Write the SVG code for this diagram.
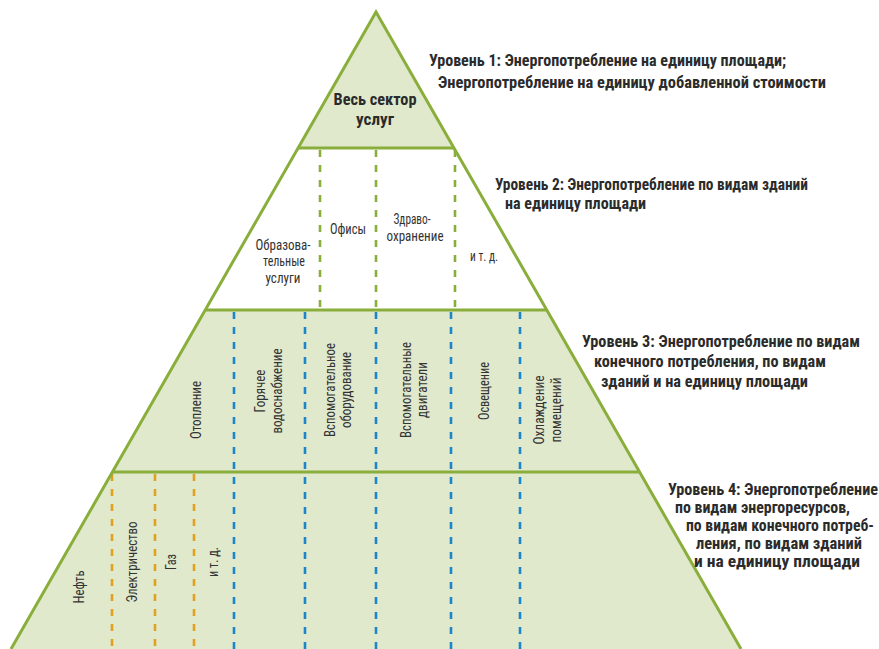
<svg xmlns="http://www.w3.org/2000/svg" width="879" height="649" viewBox="0 0 879 649">
<style>
.fill{fill:#e1e9cd}
.white{fill:#ffffff}
.edge{fill:none;stroke:#8aae3b;stroke-width:3;stroke-linejoin:miter}
.g{stroke:#8aae3b;stroke-width:2.6;stroke-dasharray:7 8;fill:none}
.b{stroke:#1d86c9;stroke-width:2.6;stroke-dasharray:7 8;fill:none}
.o{stroke:#e0a020;stroke-width:2.6;stroke-dasharray:7 8;fill:none}
.lbl{font-family:"Liberation Sans Narrow","Roboto Condensed","DejaVu Sans Condensed","Liberation Sans",sans-serif;font-size:14px;fill:#333333}
.lv{font-family:"Liberation Sans Narrow","Roboto Condensed","DejaVu Sans Condensed","Liberation Sans",sans-serif;font-size:16px;font-weight:bold;fill:#2b2b2b}
.top{font-family:"Liberation Sans Narrow","Roboto Condensed","DejaVu Sans Condensed","Liberation Sans",sans-serif;font-size:17px;font-weight:bold;fill:#2b2b2b;text-anchor:middle}
</style>
<g id="layers">
<polygon class="fill" points="376,12 298,148 454,148"/>
<polygon class="white" points="298,148 454,148 547,310 205,310"/>
<polygon class="fill" points="205,310 547,310 640,472 112,472"/>
<polygon class="fill" points="112,472 640,472 741,649 11,649"/>
</g>
<g id="connectors">
<line class="g" x1="320" y1="150" x2="320" y2="309"/>
<line class="g" x1="376" y1="150" x2="376" y2="309"/>
<line class="g" x1="455" y1="150" x2="455" y2="309"/>
<line class="b" x1="234" y1="312" x2="234" y2="649"/>
<line class="b" x1="305" y1="312" x2="305" y2="649"/>
<line class="b" x1="376" y1="312" x2="376" y2="649"/>
<line class="b" x1="451" y1="312" x2="451" y2="649"/>
<line class="b" x1="520" y1="312" x2="520" y2="649"/>
<line class="o" x1="112" y1="474" x2="112" y2="649"/>
<line class="o" x1="155" y1="474" x2="155" y2="649"/>
<line class="o" x1="194" y1="474" x2="194" y2="649"/>
</g>
<g id="outline">
<polyline class="edge" points="11,649 376,12 741,649"/>
<line class="edge" x1="298" y1="148" x2="454" y2="148"/>
<line class="edge" x1="205" y1="310" x2="547" y2="310"/>
<line class="edge" x1="112" y1="472" x2="640" y2="472"/>
</g>
<g id="level1">
<text class="top" x="375" y="105" textLength="83" lengthAdjust="spacingAndGlyphs">Весь сектор</text>
<text class="top" x="375" y="125" textLength="38" lengthAdjust="spacingAndGlyphs">услуг</text>
<text class="lv" x="429" y="66" textLength="357" lengthAdjust="spacingAndGlyphs">Уровень 1: Энергопотребление на единицу площади;</text>
<text class="lv" x="438" y="88" textLength="388" lengthAdjust="spacingAndGlyphs">Энергопотребление на единицу добавленной стоимости</text>
</g>
<g id="level2">
<text class="lbl" text-anchor="middle" x="283" y="250" textLength="55" lengthAdjust="spacingAndGlyphs">Образова-</text>
<text class="lbl" text-anchor="middle" x="284" y="266" textLength="42" lengthAdjust="spacingAndGlyphs">тельные</text>
<text class="lbl" text-anchor="middle" x="283" y="283" textLength="35" lengthAdjust="spacingAndGlyphs">услуги</text>
<text class="lbl" text-anchor="middle" x="348" y="234" textLength="36" lengthAdjust="spacingAndGlyphs">Офисы</text>
<text class="lbl" text-anchor="middle" x="412" y="224" textLength="37" lengthAdjust="spacingAndGlyphs">Здраво-</text>
<text class="lbl" text-anchor="middle" x="415" y="241" textLength="57" lengthAdjust="spacingAndGlyphs">охранение</text>
<text class="lbl" text-anchor="middle" x="484" y="261" textLength="28" lengthAdjust="spacingAndGlyphs">и т. д.</text>
<text class="lv" x="495" y="190" textLength="313" lengthAdjust="spacingAndGlyphs">Уровень 2: Энергопотребление по видам зданий</text>
<text class="lv" x="505" y="209" textLength="141" lengthAdjust="spacingAndGlyphs">на единицу площади</text>
</g>
<g id="level3">
<text class="lbl" text-anchor="middle" transform="translate(201,410) rotate(-90)" textLength="58" lengthAdjust="spacingAndGlyphs">Отопление</text>
<text class="lbl" text-anchor="middle" transform="translate(265,391) rotate(-90)" textLength="43" lengthAdjust="spacingAndGlyphs">Горячее</text>
<text class="lbl" text-anchor="middle" transform="translate(282,391) rotate(-90)" textLength="85" lengthAdjust="spacingAndGlyphs">водоснабжение</text>
<text class="lbl" text-anchor="middle" transform="translate(335,390) rotate(-90)" textLength="94" lengthAdjust="spacingAndGlyphs">Вспомогательное</text>
<text class="lbl" text-anchor="middle" transform="translate(351,390) rotate(-90)" textLength="76" lengthAdjust="spacingAndGlyphs">оборудование</text>
<text class="lbl" text-anchor="middle" transform="translate(411,390) rotate(-90)" textLength="96" lengthAdjust="spacingAndGlyphs">Вспомогательные</text>
<text class="lbl" text-anchor="middle" transform="translate(427,390) rotate(-90)" textLength="56" lengthAdjust="spacingAndGlyphs">двигатели</text>
<text class="lbl" text-anchor="middle" transform="translate(489,391) rotate(-90)" textLength="58" lengthAdjust="spacingAndGlyphs">Освещение</text>
<text class="lbl" text-anchor="middle" transform="translate(544,410) rotate(-90)" textLength="69" lengthAdjust="spacingAndGlyphs">Охлаждение</text>
<text class="lbl" text-anchor="middle" transform="translate(561,410) rotate(-90)" textLength="65" lengthAdjust="spacingAndGlyphs">помещений</text>
<text class="lv" x="582" y="347" textLength="278" lengthAdjust="spacingAndGlyphs">Уровень 3: Энергопотребление по видам</text>
<text class="lv" x="594" y="367" textLength="232" lengthAdjust="spacingAndGlyphs">конечного потребления, по видам</text>
<text class="lv" x="601" y="387" textLength="207" lengthAdjust="spacingAndGlyphs">зданий и на единицу площади</text>
</g>
<g id="level4">
<text class="lbl" text-anchor="middle" transform="translate(84,587) rotate(-90)" textLength="33" lengthAdjust="spacingAndGlyphs">Нефть</text>
<text class="lbl" text-anchor="middle" transform="translate(137,562) rotate(-90)" textLength="81" lengthAdjust="spacingAndGlyphs">Электричество</text>
<text class="lbl" text-anchor="middle" transform="translate(176,562) rotate(-90)" textLength="16" lengthAdjust="spacingAndGlyphs">Газ</text>
<text class="lbl" text-anchor="middle" transform="translate(218,562) rotate(-90)" textLength="30" lengthAdjust="spacingAndGlyphs">и т. д.</text>
<text class="lv" x="668" y="495" textLength="210" lengthAdjust="spacingAndGlyphs">Уровень 4: Энергопотребление</text>
<text class="lv" x="675" y="513" textLength="175" lengthAdjust="spacingAndGlyphs">по видам энергоресурсов,</text>
<text class="lv" x="686" y="531" textLength="188" lengthAdjust="spacingAndGlyphs">по видам конечного потреб-</text>
<text class="lv" x="696" y="549" textLength="166" lengthAdjust="spacingAndGlyphs">ления, по видам зданий</text>
<text class="lv" x="694" y="567" textLength="166" lengthAdjust="spacingAndGlyphs">и на единицу площади</text>
</g>
</svg>
